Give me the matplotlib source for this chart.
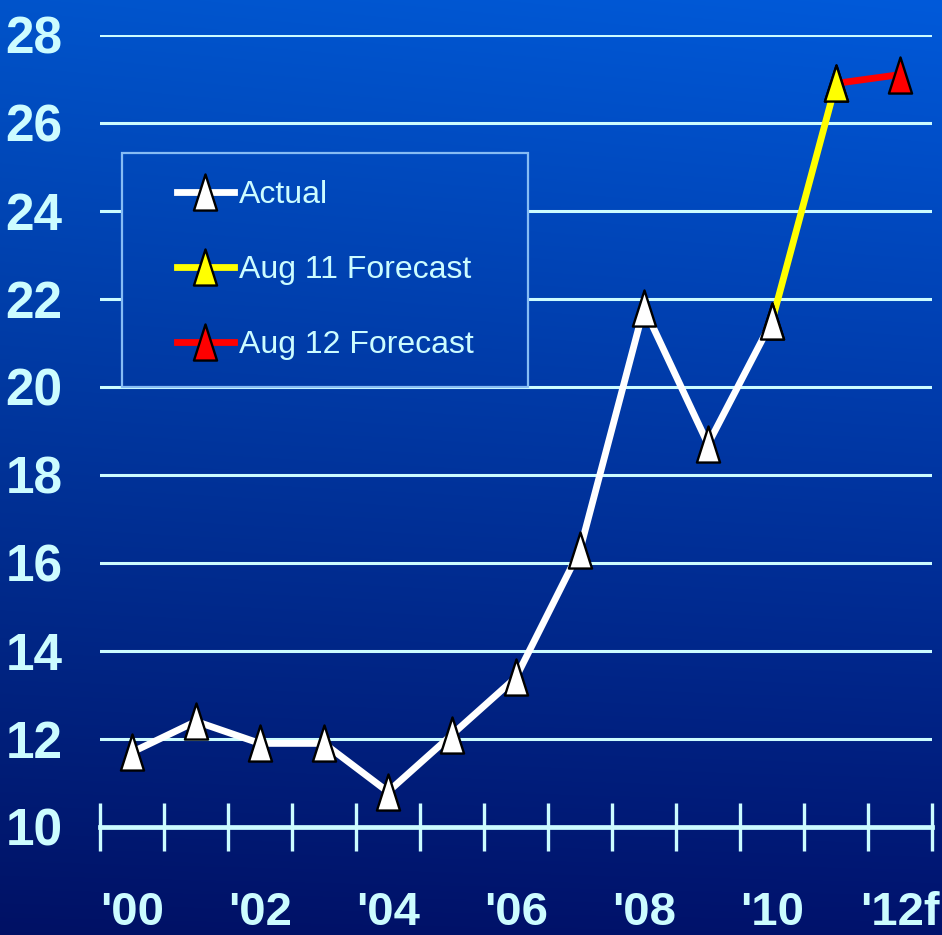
import numpy as np
import matplotlib
matplotlib.use('Agg')
import matplotlib.pyplot as plt
from matplotlib.path import Path
from matplotlib.patches import Rectangle
from matplotlib.lines import Line2D

# ---------------- datos ----------------
anios = ["'00", "'01", "'02", "'03", "'04", "'05", "'06",
         "'07", "'08", "'09", "'10", "'11", "'12f"]
etiquetas_x = ["'00", "'02", "'04", "'06", "'08", "'10", "'12f"]
real = [11.7, 12.4, 11.9, 11.9, 10.8, 12.1, 13.4, 16.3, 21.8, 18.7, 21.5,
        np.nan, np.nan]
pronostico_ago11 = [np.nan] * 10 + [21.5, 26.9, np.nan]
pronostico_ago12 = [np.nan] * 11 + [26.9, 27.1]
ticks_y = [10, 12, 14, 16, 18, 20, 22, 24, 26, 28]
nombres = ['Actual', 'Aug 11 Forecast', 'Aug 12 Forecast']

# ---------------- estilo ----------------
W, H, DPI = 942, 935, 100
CIAN = '#ccfcff'
FUENTE = ['Liberation Sans Narrow', 'Liberation Sans', 'DejaVu Sans']

# triangulo alto y estrecho para los marcadores
triangulo = Path([(0, 1), (-0.64, -1), (0.64, -1), (0, 1)],
                 [Path.MOVETO, Path.LINETO, Path.LINETO, Path.CLOSEPOLY])


def degradado(xs, ys):
    """Fondo azul: claro arriba, marino abajo, un poco mas claro a la derecha."""
    X, Y = np.meshgrid(xs / W, ys / H)
    arriba = np.array([0, 90, 218]) / 255
    abajo = np.array([0, 18, 108]) / 255
    img = arriba * (1 - Y[..., None]) + abajo * Y[..., None]
    img = img * (0.93 + 0.07 * X[..., None])
    return np.clip(img, 0, 1)


fig = plt.figure(figsize=(W / DPI, H / DPI), dpi=DPI)

fondo = fig.add_axes([0, 0, 1, 1], zorder=-1)
fondo.imshow(degradado(np.arange(W) + 0.5, np.arange(H) + 0.5), aspect='auto')
fondo.axis('off')

ax_left, ax_right, ax_top, ax_bot = 100, 932, 35, 827
ax = fig.add_axes([ax_left / W, (H - ax_bot) / H,
                   (ax_right - ax_left) / W, (ax_bot - ax_top) / H])
ax.set_facecolor('none')
x = np.arange(len(anios))
ax.set_xlim(-0.5, len(anios) - 0.5)
ax.set_ylim(10, 28)
for s in ax.spines.values():
    s.set_visible(False)

# lineas de rejilla
for yv in ticks_y[1:]:
    ax.axhline(yv, color=CIAN, lw=2.2, zorder=1)

# eje inferior con marcas entre categorias
ax.axhline(10, color=CIAN, lw=3.4, zorder=2, clip_on=False)
ax.vlines(np.arange(len(anios) + 1) - 0.5, 10 - 0.55, 10 + 0.55,
          color=CIAN, lw=2.4, zorder=2, clip_on=False)

# recuadro de la leyenda, tapando la rejilla con el mismo fondo
bx0, bx1, by0, by1 = -0.156, 6.19, 20.0, 25.32
(px0, py0), (px1, py1) = ax.transData.transform([(bx0, by0), (bx1, by1)])
xs = np.linspace(px0, px1, 200)
ys = np.linspace(H - py1, H - py0, 200)
ax.imshow(degradado(xs, ys), extent=[bx0, bx1, by0, by1], aspect='auto',
          zorder=2.5)
ax.add_patch(Rectangle((bx0, by0), bx1 - bx0, by1 - by0, fill=False,
                       ec='#86bcf4', lw=1.6, zorder=3))

# series
kw = dict(marker=triangulo, markersize=26, markeredgecolor='black',
          markeredgewidth=1.7, lw=4.9, zorder=4, clip_on=False)
ax.plot(x, pronostico_ago12, color='#ff0000', markerfacecolor='#ff0000', **kw)
ax.plot(x, pronostico_ago11, color='#ffff00', markerfacecolor='#ffff00', **kw)
ax.plot(x, real, color='white', markerfacecolor='white', **kw)

# leyenda
manejadores = [Line2D([], [], color=c, marker=triangulo, markersize=26,
                      markerfacecolor=c, markeredgecolor='black',
                      markeredgewidth=1.7, lw=4.9)
               for c in ['white', '#ffff00', '#ff0000']]
ley = ax.legend(manejadores, nombres, loc='center',
                bbox_to_anchor=((bx0 + bx1) / 2, (by0 + by1) / 2),
                bbox_transform=ax.transData, frameon=False,
                prop={'family': FUENTE, 'size': 23},
                handlelength=1.8, handletextpad=0.15, labelspacing=1.4)
ley.set_zorder(5)
for t in ley.get_texts():
    t.set_color(CIAN)

# etiquetas de los ejes
ax.set_yticks(ticks_y)
ax.set_yticklabels([str(v) for v in ticks_y])
ax.set_xticks(x[::2])
ax.set_xticklabels(etiquetas_x)
ax.tick_params(axis='y', length=0, pad=27, labelcolor=CIAN)
ax.tick_params(axis='x', length=0, pad=46, labelcolor=CIAN)
for t in ax.get_yticklabels():
    t.set_fontfamily(FUENTE)
    t.set_fontweight('bold')
    t.set_fontsize(37)
for t in ax.get_xticklabels():
    t.set_fontfamily(FUENTE)
    t.set_fontweight('bold')
    t.set_fontsize(34)

fig.savefig('out.png', dpi=DPI)
